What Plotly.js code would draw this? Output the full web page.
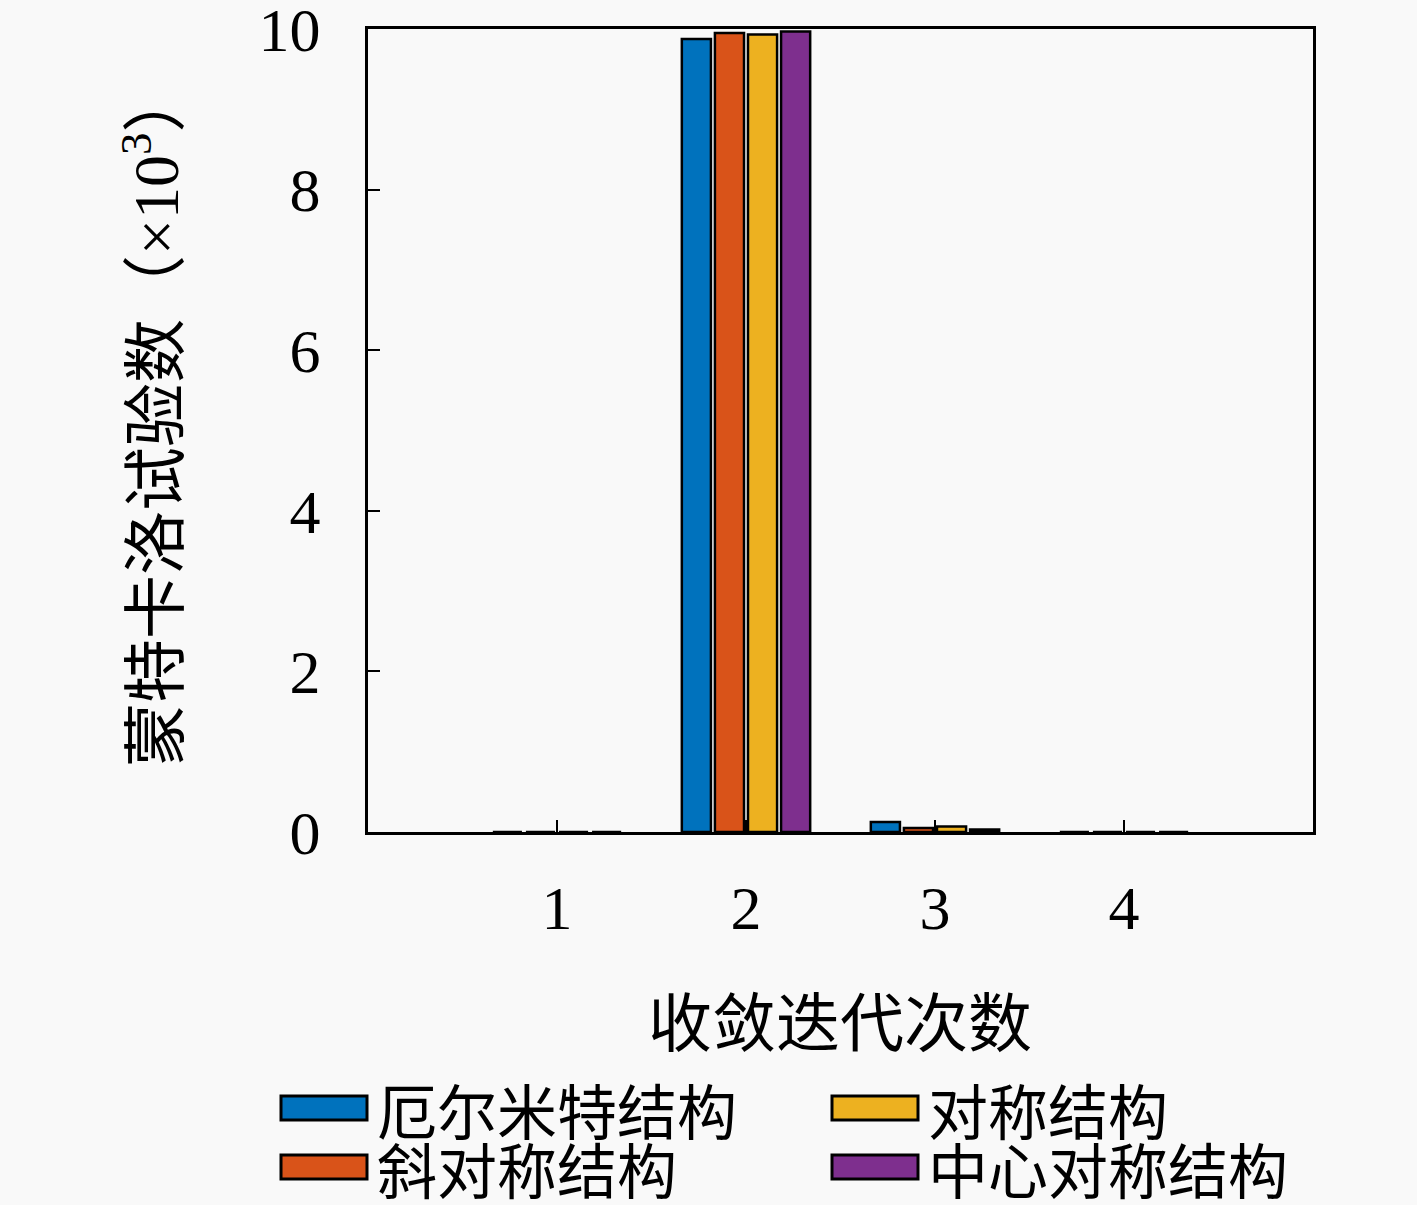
<!DOCTYPE html>
<html>
<head>
<meta charset="utf-8">
<script src="https://cdn.plot.ly/plotly-3.0.1.min.js"></script>
<style>
  body { margin: 0; background: #f9f9f9; }
  #chart { width: 1417px; height: 1205px; }
</style>
</head>
<body>
<div id="chart"></div>
<script>
// iteration counts (x categories)
var iterations = [1, 2, 3, 4];

// Monte Carlo trial counts, in thousands
var hermitian     = [0, 9.875, 0.125, 0];
var skewSymmetric = [0, 9.95, 0.05, 0];
var symmetric     = [0, 9.93, 0.07, 0];
var centroSymm    = [0, 9.97, 0.03, 0];

var seriesNames  = ['厄尔米特结构', '斜对称结构', '对称结构', '中心对称结构'];
var seriesColors = ['#0072BD', '#D95319', '#EDB120', '#7E2F8E'];
var seriesValues = [hermitian, skewSymmetric, symmetric, centroSymm];

var serif = 'Liberation Serif, DejaVu Serif, serif';
var cjk = 'Noto Sans CJK SC, sans-serif';

var data = seriesValues.map(function (vals, i) {
  return {
    type: 'bar',
    x: iterations,
    y: vals,
    name: seriesNames[i],
    marker: {
      color: seriesColors[i],
      line: { color: '#000000', width: 2.5 }
    },
    showlegend: false
  };
});

// hand-made legend: wide swatches like the original figure
var legendSlots = [
  { col: 0, row: 0 }, // 厄尔米特结构
  { col: 0, row: 1 }, // 斜对称结构
  { col: 1, row: 0 }, // 对称结构
  { col: 1, row: 1 }  // 中心对称结构
];
var shapes = [];
var annotations = [];
legendSlots.forEach(function (s, i) {
  var x0 = 281 + s.col * 551;
  var yc = 1108 + s.row * 59;
  shapes.push({
    type: 'rect', xref: 'paper', yref: 'paper',
    x0: (x0 - 368) / 945, x1: (x0 + 86 - 368) / 945,
    y0: (832 - (yc + 12)) / 803, y1: (832 - (yc - 12)) / 803,
    fillcolor: seriesColors[i],
    line: { color: '#000000', width: 3 }
  });
  annotations.push({
    xref: 'paper', yref: 'paper',
    x: (x0 + 94 - 368) / 945, y: (832 - yc) / 803,
    xanchor: 'left', yanchor: 'middle',
    text: seriesNames[i], showarrow: false,
    font: { family: cjk, size: 60, color: '#000000' }
  });
});

// axis titles
annotations.push({
  xref: 'paper', yref: 'paper',
  x: (840 - 368) / 945, y: (832 - 1018) / 803,
  xanchor: 'center', yanchor: 'middle',
  text: '收敛迭代次数', showarrow: false,
  font: { family: cjk, size: 64, color: '#000000' }
});
annotations.push({
  xref: 'paper', yref: 'paper',
  x: (150 - 368) / 945, y: (832 - 418) / 803,
  xanchor: 'center', yanchor: 'middle', textangle: -90,
  text: '蒙特卡洛试验数（<span style="font-family:Liberation Serif">×10<sup>3</sup></span>）',
  showarrow: false,
  font: { family: cjk, size: 64, color: '#000000' }
});

var layout = {
  width: 1417,
  height: 1205,
  margin: { l: 368, r: 104, t: 29, b: 373 },
  paper_bgcolor: '#f9f9f9',
  plot_bgcolor: '#f9f9f9',
  barmode: 'group',
  bargap: 0.3,
  bargroupgap: 0.12,
  showlegend: false,
  xaxis: {
    range: [0, 5],
    tickvals: iterations,
    ticktext: iterations.map(String),
    ticks: 'inside',
    ticklen: 12,
    tickwidth: 2,
    tickcolor: '#000000',
    showline: true,
    linecolor: '#000000',
    linewidth: 3,
    mirror: true,
    showgrid: false,
    zeroline: false,
    layer: 'above traces',
    ticklabelstandoff: 20,
    tickfont: { family: serif, size: 62, color: '#000000' }
  },
  yaxis: {
    range: [0, 10],
    tickvals: [0, 2, 4, 6, 8, 10],
    ticks: 'inside',
    ticklen: 12,
    tickwidth: 2,
    tickcolor: '#000000',
    showline: true,
    linecolor: '#000000',
    linewidth: 3,
    mirror: true,
    showgrid: false,
    zeroline: false,
    layer: 'above traces',
    ticklabeloverflow: 'allow',
    ticklabelstandoff: 32,
    tickfont: { family: serif, size: 62, color: '#000000' }
  },
  shapes: shapes,
  annotations: annotations
};

Plotly.newPlot('chart', data, layout, { displayModeBar: false });
</script>
</body>
</html>
